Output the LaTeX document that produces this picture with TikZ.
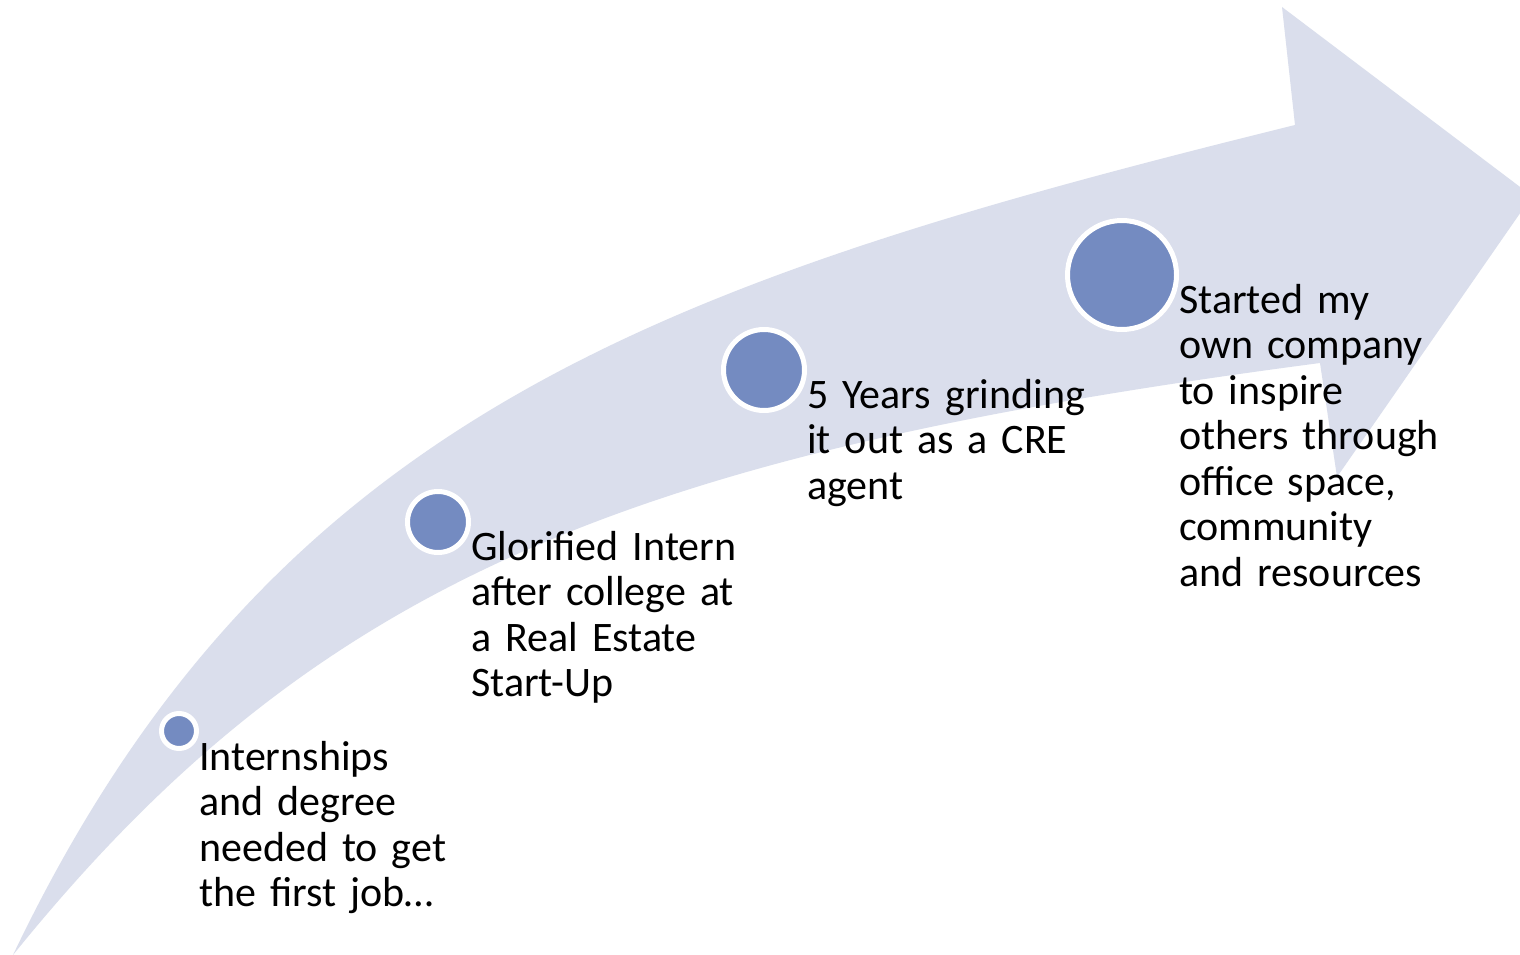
\documentclass[tikz,border=0pt]{standalone}
\usepackage{fontspec}
\setmainfont{Carlito}
\usetikzlibrary{positioning}
\definecolor{arrowfill}{RGB}{218,222,236}
\definecolor{dotfill}{RGB}{116,139,193}
\definecolor{bggray}{RGB}{240,240,240}
\pgfdeclareradialshading{slidebg}{\pgfpoint{0bp}{0bp}}{color(0bp)=(white); color(26bp)=(white); color(50bp)=(bggray)}

\begin{document}
\begin{tikzpicture}[x=1pt,y=-1pt,
  dot/.style={circle,draw=white,line width=5pt,fill=dotfill,inner sep=0pt},
  stage text/.style={anchor=base west,inner sep=0pt,text width=#1,align=left,
    font=\fontsize{42}{45.5}\selectfont}]

\useasboundingbox (0,0) rectangle (1520,955);
\begin{scope}
\clip (0,0) rectangle (1520,955);
\shade[shading=slidebg] (820,560) circle (1050);
\end{scope}

% curved arrow
\coordinate (tail) at (13,955);
\coordinate (neck1) at (1295,125);
\coordinate (barb1) at (1282,7);
\coordinate (tip) at (1532,196);
\coordinate (barb2) at (1337,477);
\coordinate (neck2) at (1320,363);
\fill[arrowfill] (tail) .. controls (271,415) and (664,281) .. (neck1)
  -- (barb1) -- (tip) -- (barb2) -- (neck2)
  .. controls (627,454) and (315,581) .. (tail) -- cycle;

% stages
\node[dot,minimum size=35pt] (c1) at (179,731) {};
\node[dot,minimum size=61pt] (c2) at (438,522) {};
\node[dot,minimum size=81pt] (c3) at (764,370) {};
\node[dot,minimum size=109pt] (c4) at (1122,275) {};

\node[stage text=300pt] (t1) at ([yshift=-39pt]c1.east) {Internships\\and degree\\needed to get\\the first job…};
\node[stage text=320pt] (t2) at ([yshift=-38pt]c2.east) {Glorified Intern\\after college at\\a Real Estate\\Start-Up};
\node[stage text=320pt] (t3) at ([yshift=-38pt]c3.east) {5 Years grinding\\it out as a CRE\\agent};
\node[stage text=320pt] (t4) at ([yshift=-38pt]c4.east) {Started my\\own company\\to inspire\\others through\\office space,\\community\\and resources};

\end{tikzpicture}
\end{document}
